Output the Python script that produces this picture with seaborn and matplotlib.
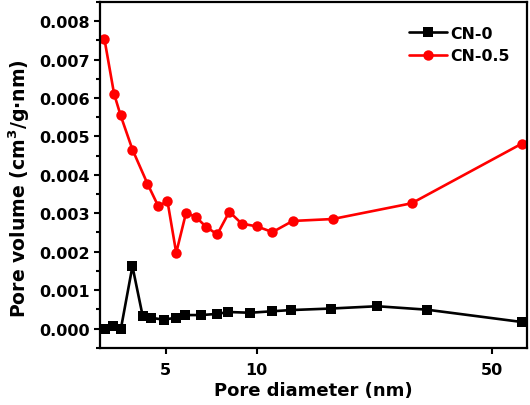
import numpy as np
import pandas as pd
import matplotlib
matplotlib.use("Agg")
import matplotlib.pyplot as plt
from matplotlib.ticker import MultipleLocator, FormatStrFormatter, FixedLocator
import seaborn as sns

# Data
d_cn0 = [3.07, 3.29, 3.50, 3.84, 4.17, 4.45, 4.92, 5.41, 5.81, 6.58, 7.43, 8.09, 9.53,
         11.22, 12.83, 17.05, 23.50, 32.83, 60.44]
v_cn0 = [0.00000, 0.00006, 0.00000, 0.00162, 0.00032, 0.00028, 0.00023, 0.00028, 0.00035,
         0.00035, 0.00038, 0.00043, 0.00041, 0.00045, 0.00048, 0.00052, 0.00058, 0.00049,
         0.00017]
d_cn05 = [3.06, 3.31, 3.49, 3.84, 4.33, 4.72, 5.07, 5.43, 5.86, 6.31, 6.83, 7.44, 8.15,
          8.94, 9.99, 11.22, 12.99, 17.26, 29.65, 60.44]
v_cn05 = [0.00753, 0.00611, 0.00555, 0.00466, 0.00377, 0.00318, 0.00332, 0.00197, 0.00301,
          0.00291, 0.00265, 0.00245, 0.00304, 0.00273, 0.00266, 0.00251, 0.00280, 0.00285,
          0.00326, 0.00481]
x_ticks = [5, 10, 50]

df = pd.concat([
    pd.DataFrame({"d": d_cn0, "v": v_cn0, "sample": "CN-0"}),
    pd.DataFrame({"d": d_cn05, "v": v_cn05, "sample": "CN-0.5"}),
])

sns.set_style("ticks")
plt.rcParams["font.family"] = ["DejaVu Sans"]
plt.rcParams["font.weight"] = "bold"
for k in ["text.color", "axes.labelcolor", "xtick.color", "ytick.color", "axes.edgecolor"]:
    plt.rcParams[k] = "black"

fig = plt.figure(figsize=(5.3, 4.06), dpi=100)
ax = fig.add_axes([0.1887, 0.1411, 0.8056, 0.8515])

# axis in the reference is compressed like a low power of x
p = 0.09
ax.set_xscale("function", functions=(lambda x: np.power(np.clip(x, 1e-9, None), p),
                                     lambda y: np.power(np.clip(y, 1e-9, None), 1 / p)))

sns.lineplot(data=df, x="d", y="v", hue="sample", style="sample",
             palette={"CN-0": "black", "CN-0.5": "#ff0000"},
             markers={"CN-0": "s", "CN-0.5": "o"}, dashes=False,
             markersize=7.5, markeredgewidth=0, linewidth=1.9, sort=False, ax=ax)

ax.set_xlim(2.95, 62.5)
ax.set_ylim(-0.0005, 0.0085)
ax.xaxis.set_major_locator(FixedLocator(x_ticks))
ax.xaxis.set_minor_locator(FixedLocator([]))
ax.set_xticklabels([str(t) for t in x_ticks])
ax.yaxis.set_major_locator(MultipleLocator(0.001))
ax.yaxis.set_minor_locator(MultipleLocator(0.0005))
ax.yaxis.set_major_formatter(FormatStrFormatter("%.3f"))

for s in ax.spines.values():
    s.set_linewidth(1.6)
    s.set_visible(True)
ax.tick_params(axis="both", which="major", length=4.5, width=1.5, labelsize=11.5, pad=3)
ax.tick_params(axis="x", which="major", pad=5.5)
ax.tick_params(axis="y", which="minor", length=3, width=1.5)
ax.tick_params(top=False, right=False)

ax.set_xlabel("Pore diameter (nm)", fontsize=13, fontweight="bold", labelpad=3.5)
ax.set_ylabel("Pore volume (cm$^\\mathbf{3}$/g·nm)", fontsize=13.6, fontweight="bold")
ax.yaxis.set_label_coords(-0.16, 0.463)

ax.legend(loc="upper left", bbox_to_anchor=(0.7237, 0.932), frameon=False,
          borderaxespad=0, borderpad=0, handlelength=2.4, handletextpad=0.2,
          labelspacing=0.5, prop={"size": 11.3, "weight": "bold"})

fig.savefig("out.png", dpi=100)
